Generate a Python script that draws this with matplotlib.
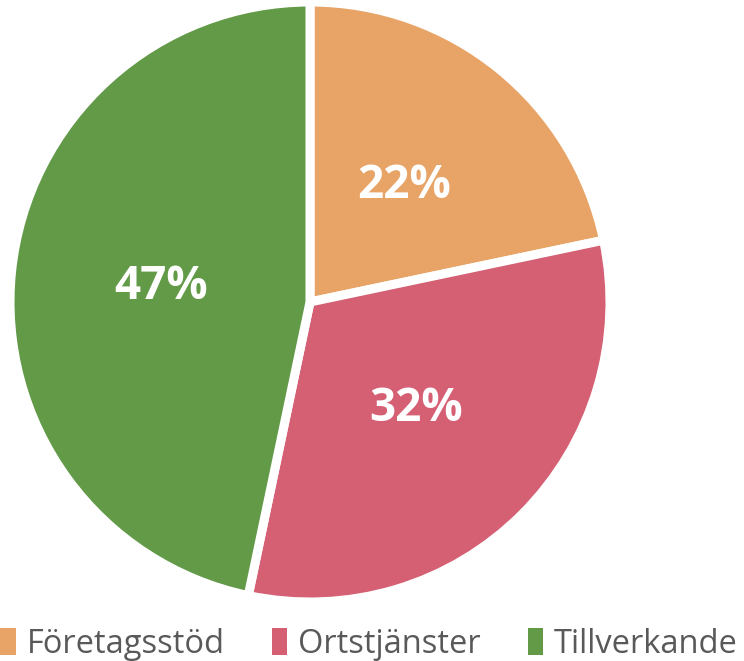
import matplotlib.pyplot as plt

categories = ["Företagsstöd", "Ortstjänster", "Tillverkande"]
shares = [21.7, 31.6, 46.7]
colors = ["#E8A467", "#D55F73", "#629A48"]

plt.rcParams["font.family"] = ["Open Sans", "DejaVu Sans"]

W, H = 744, 661
fig = plt.figure(figsize=(W / 100, H / 100), dpi=100)
# pie centre at (310, 302) px from top-left; white edge eats ~4 px of radius
lim = 1.02
r_px = 300
cx, cy = 310, H - 302
ax = fig.add_axes([(cx - r_px * lim) / W, (cy - r_px * lim) / H,
                   2 * r_px * lim / W, 2 * r_px * lim / H])

wedges, _, autotexts = ax.pie(
    shares,
    colors=colors,
    startangle=90,
    counterclock=False,
    autopct="%.0f%%",
    pctdistance=0.5,
    radius=1.0,
    wedgeprops=dict(edgecolor="white", linewidth=6.5),
    textprops=dict(color="white", fontsize=33, fontweight="bold"),
)
ax.set_xlim(-lim, lim)
ax.set_ylim(-lim, lim)

leg = fig.legend(
    wedges, categories,
    loc="lower center", bbox_to_anchor=(0.496, -0.044),
    ncol=3, frameon=False, fontsize=23.5,
    handlelength=0.48, handleheight=0.9, handletextpad=0.32,
    columnspacing=1.45, labelcolor="#595959",
)
for h in leg.legend_handles:
    h.set_linewidth(0)

fig.savefig("out.png", dpi=100)
